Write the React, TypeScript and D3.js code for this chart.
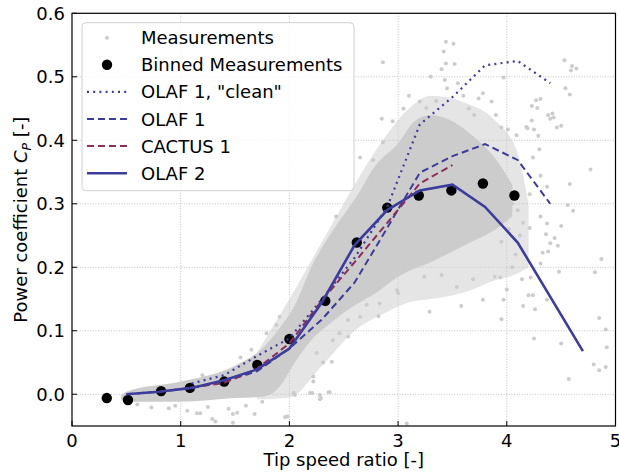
import React from 'react';
import * as d3 from 'd3';

// binned measurements
const binnedTsr = [0.32, 0.515, 0.82, 1.085, 1.4, 1.705, 2.0, 2.33, 2.62, 2.9, 3.19, 3.49, 3.78, 4.07];
const binnedCp = [-0.006, -0.009, 0.005, 0.01, 0.02, 0.046, 0.087, 0.147, 0.239, 0.294, 0.313, 0.321, 0.332, 0.313];

// simulations
const olaf2Tsr = [0.5, 0.8, 1.1, 1.4, 1.7, 2.0, 2.3, 2.6, 2.9, 3.2, 3.5, 3.8, 4.1, 4.7];
const olaf2Cp = [0.0, 0.004, 0.01, 0.022, 0.039, 0.072, 0.145, 0.235, 0.29, 0.321, 0.33, 0.295, 0.239, 0.068];

const olaf1Tsr = [0.5, 0.8, 1.1, 1.4, 1.7, 2.0, 2.3, 2.6, 2.9, 3.2, 3.5, 3.8, 4.1, 4.4];
const olaf1Cp = [0.0, 0.004, 0.01, 0.02, 0.036, 0.072, 0.118, 0.176, 0.262, 0.349, 0.375, 0.394, 0.369, 0.3];

const cleanTsr = [1.1, 1.4, 1.7, 2.0, 2.3, 2.6, 2.9, 3.2, 3.5, 3.8, 4.1, 4.4];
const cleanCp = [0.017, 0.03, 0.06, 0.088, 0.15, 0.215, 0.295, 0.425, 0.468, 0.518, 0.525, 0.49];

const cactusTsr = [1.0, 1.4, 1.7, 2.0, 2.3, 2.6, 2.9, 3.2, 3.5];
const cactusCp = [0.008, 0.018, 0.04, 0.08, 0.148, 0.208, 0.27, 0.332, 0.361];

const coreTsr = [0.45, 0.5, 1.0, 1.5, 1.75, 1.9, 2.05, 2.2, 2.4, 2.6, 2.8, 3.0, 3.15, 3.3, 3.5, 3.7, 3.9, 4.05];
const coreUpper = [-0.002, 0.004, 0.02, 0.045, 0.072, 0.102, 0.14, 0.2, 0.258, 0.307, 0.362, 0.395, 0.43, 0.44, 0.43, 0.405, 0.37, 0.33];
const coreLower = [-0.008, -0.012, -0.012, -0.006, -0.004, 0.01, 0.05, 0.085, 0.115, 0.14, 0.16, 0.185, 0.198, 0.208, 0.225, 0.242, 0.26, 0.28];

const haloTsr = [1.7, 2.0, 2.3, 2.6, 2.9, 3.1, 3.3, 3.6, 3.9, 4.1, 4.2];
const haloUpper = [0.065, 0.15, 0.24, 0.33, 0.41, 0.45, 0.47, 0.46, 0.43, 0.38, 0.3];
const haloLower = [-0.008, -0.005, 0.045, 0.1, 0.13, 0.145, 0.15, 0.16, 0.18, 0.19, 0.2];

// scattered single measurements outside the cloud
const measPoints: [number, number][] = [
  [3.44, 0.555], [3.51, 0.552], [3.42, 0.54], [3.44, 0.521], [3.52, 0.52], [2.86, 0.523], [3.4, 0.512],
  [3.97, 0.499], [3.43, 0.495], [2.85, 0.434], [3.2, 0.461], [3.35, 0.462], [3.26, 0.451], [3.45, 0.482],
  [3.74, 0.466], [3.86, 0.461], [3.78, 0.474], [4.01, 0.417], [2.65, 0.373], [2.86, 0.397], [2.77, 0.369],
  [4.53, 0.526], [4.6, 0.517], [4.64, 0.513], [4.59, 0.51], [4.54, 0.482], [4.58, 0.472], [4.31, 0.465],
  [4.23, 0.454], [4.28, 0.451], [4.42, 0.442], [4.43, 0.436], [4.5, 0.423], [4.23, 0.431], [4.18, 0.421],
  [4.25, 0.417], [4.29, 0.407], [4.09, 0.408], [4.3, 0.386], [4.24, 0.373], [4.77, 0.354], [4.31, 0.344],
  [4.37, 0.327], [4.58, 0.331], [4.21, 0.315], [4.56, 0.298], [4.61, 0.289], [4.31, 0.28], [4.5, 0.265],
  [4.37, 0.269], [4.21, 0.262], [4.36, 0.252], [4.44, 0.246], [4.4, 0.238], [4.47, 0.234], [4.33, 0.223],
  [4.38, 0.225], [4.87, 0.213], [4.31, 0.206], [4.48, 0.193], [4.81, 0.192], [4.22, 0.184], [4.14, 0.181],
  [4.2, 0.156], [4.24, 0.156], [4.37, 0.149], [4.15, 0.139], [4.26, 0.134], [3.97, 0.149], [3.78, 0.149],
  [3.95, 0.118], [4.85, 0.12], [4.91, 0.102], [4.25, 0.088], [4.5, 0.08], [4.92, 0.074], [4.8, 0.047],
  [4.85, 0.038], [4.91, 0.043], [4.57, 0.024], [4.0, 0.165], [3.89, 0.185], [3.94, 0.184],
  [3.29, 0.13], [3.58, 0.139], [3.54, 0.169], [3.69, 0.181], [3.4, 0.188], [3.24, 0.185], [2.82, 0.123],
  [2.65, 0.122], [2.99, 0.164], [3.0, 0.159], [2.22, 0.028], [2.22, 0.02], [2.19, 0.002], [2.29, -0.006],
  [2.37, 0.003], [3.08, -0.046], [2.25, 0.065], [2.31, 0.05], [2.39, 0.051], [2.4, 0.085], [2.46, 0.096],
  [2.54, 0.091], [2.71, 0.141], [2.83, 0.143], [2.54, 0.117], [2.21, 0.002], [2.28, -0.001], [2.28, -0.008],
  [2.36, 0.003], [1.96, -0.036], [2.05, -0.001],
  [0.73, -0.021], [0.89, -0.022], [1.06, -0.026], [1.15, -0.03], [1.18, -0.03], [1.29, -0.039], [1.32, -0.043],
  [1.44, -0.023], [1.48, -0.031], [1.52, -0.029], [1.68, -0.031], [1.48, -0.045], [1.98, -0.035], [2.04, 0.002],
  [2.16, 0.164], [2.18, 0.155], [1.91, 0.122], [1.79, 0.096], [1.88, 0.109], [2.43, 0.28], [2.55, 0.285],
  [4.27, 0.463], [4.38, 0.44], [4.4, 0.434], [4.46, 0.42], [4.19, 0.419],
  [4.05, 0.3], [4.1, 0.29], [4.02, 0.26], [4.12, 0.25], [4.08, 0.22], [4.15, 0.27], [3.95, 0.24], [4.05, 0.2],
  [3.1, 0.47], [3.6, 0.47], [3.65, 0.45], [3.7, 0.44], [3.55, 0.49], [3.3, 0.5], [3.9, 0.44], [3.95, 0.42],
  [3.05, 0.45], [2.95, 0.43],
  [0.6, -0.016], [0.95, -0.018], [1.25, -0.02], [1.6, -0.018], [1.75, -0.012], [1.2, 0.03], [1.55, 0.058],
  [1.65, 0.07], [1.85, 0.085],
];

const xTicks = [0, 1, 2, 3, 4, 5];
const yTicks = [0.0, 0.1, 0.2, 0.3, 0.4, 0.5, 0.6];

const legendLabels = ['Measurements', 'Binned Measurements', 'OLAF 1, "clean"', 'OLAF 1', 'CACTUS 1', 'OLAF 2'];

const W = 619;
const H = 473;
const left = 72, right = 615.5, top = 13.3, bottom = 426;
const blue = '#3c3c9c';
const maroon = '#8b2d5c';
const gray = '#cccccc';
const font = 'DejaVu Sans, sans-serif';

const zip = (a: number[], b: number[]) => a.map((v, i) => [v, b[i]] as [number, number]);

export default function App() {
  const x = d3.scaleLinear().domain([0, 5]).range([left, right]);
  const y = d3.scaleLinear().domain([-0.05, 0.6]).range([bottom, top]);

  const line = d3.line<[number, number]>().x(d => x(d[0])).y(d => y(d[1]));
  const area = (xs: number[], lo: number[], hi: number[]) =>
    d3.area<number>().x((_, i) => x(xs[i])).y0((_, i) => y(lo[i])).y1((_, i) => y(hi[i]))
      .curve(d3.curveMonotoneX)(xs) || '';

  const series = [
    { tsr: cleanTsr, cp: cleanCp, color: blue, dash: '2,4.2', width: 2.2 },
    { tsr: olaf1Tsr, cp: olaf1Cp, color: blue, dash: '7,4', width: 2 },
    { tsr: cactusTsr, cp: cactusCp, color: maroon, dash: '7,4', width: 2 },
    { tsr: olaf2Tsr, cp: olaf2Cp, color: blue, dash: undefined, width: 2.6 },
  ];

  const legendY = (i: number) => 37.7 + i * 27.1;

  return (
    <svg width={W} height={H} style={{ position: 'fixed', left: 0, top: 0, background: '#fff' }} fontFamily={font}>
      <defs>
        <clipPath id="plot">
          <rect x={left} y={top} width={right - left} height={bottom - top} />
        </clipPath>
      </defs>
      {/* grid */}
      <g stroke="#b0b0b0" strokeWidth={0.8} strokeDasharray="1,1.6">
        {xTicks.slice(1, -1).map(t => <line key={'gx' + t} x1={x(t)} x2={x(t)} y1={top} y2={bottom} />)}
        {yTicks.slice(0, -1).map(t => <line key={'gy' + t} x1={left} x2={right} y1={y(t)} y2={y(t)} />)}
      </g>
      <g clipPath="url(#plot)">
        <path d={area(haloTsr, haloLower, haloUpper)} fill={gray} opacity={0.5} />
        <path d={area(coreTsr, coreLower, coreUpper)} fill={gray} />
        {measPoints.map((p, i) => <circle key={'m' + i} cx={x(p[0])} cy={y(p[1])} r={2} fill={gray} />)}
        {binnedTsr.map((t, i) => <circle key={'b' + i} cx={x(t)} cy={y(binnedCp[i])} r={5.2} fill="#000" />)}
        {series.map((s, i) => (
          <path key={'s' + i} d={line(zip(s.tsr, s.cp)) || ''} fill="none" stroke={s.color}
            strokeWidth={s.width} strokeDasharray={s.dash} />
        ))}
      </g>
      {/* frame and ticks */}
      <rect x={left} y={top} width={right - left} height={bottom - top} fill="none" stroke="#000" strokeWidth={1.2} />
      <g stroke="#000" strokeWidth={1}>
        {xTicks.map(t => <line key={'tx' + t} x1={x(t)} x2={x(t)} y1={bottom} y2={bottom - 5} />)}
        {yTicks.map(t => <line key={'ty' + t} x1={left} x2={left + 5} y1={y(t)} y2={y(t)} />)}
      </g>
      <g fontSize={18} fill="#000">
        {xTicks.map(t => <text key={'lx' + t} x={x(t)} y={447} textAnchor="middle">{t}</text>)}
        {yTicks.map(t => <text key={'ly' + t} x={65} y={y(t) + 6.5} textAnchor="end">{t.toFixed(1)}</text>)}
        <text x={(left + right) / 2} y={466} textAnchor="middle">Tip speed ratio [-]</text>
        <text transform={`translate(27,${(top + bottom) / 2}) rotate(-90)`} textAnchor="middle">
          Power coefficient <tspan fontStyle="italic">C</tspan>
          <tspan fontStyle="italic" fontSize={12.5} dy={4}>P</tspan>
          <tspan dy={-4}> [-]</tspan>
        </text>
      </g>
      {/* legend */}
      <rect x={82} y={22.7} width={272} height={168} rx={4} fill="#fff" fillOpacity={0.8} stroke="#d0d0d0" strokeWidth={1} />
      <circle cx={107} cy={legendY(0)} r={2} fill={gray} />
      <circle cx={107} cy={legendY(1)} r={5.2} fill="#000" />
      {series.map((s, i) => (
        <line key={'lg' + i} x1={87} x2={127} y1={legendY(i + 2)} y2={legendY(i + 2)} stroke={s.color}
          strokeWidth={s.width} strokeDasharray={s.dash} />
      ))}
      {legendLabels.map((l, i) => (
        <text key={'lt' + i} x={141} y={legendY(i) + 6.5} fontSize={18}>{l}</text>
      ))}
    </svg>
  );
}
